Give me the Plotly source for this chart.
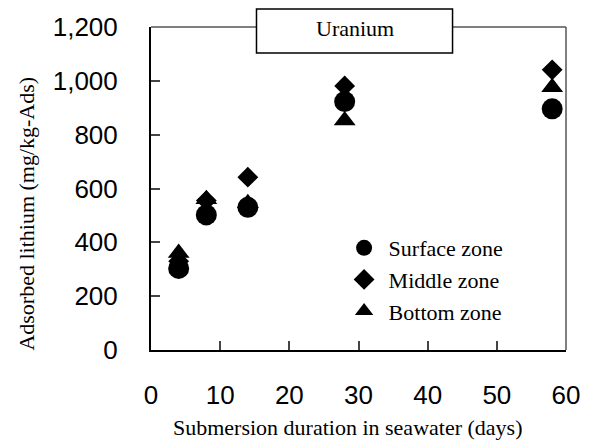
import plotly.graph_objects as go

# Lithium uptake on the uranium adsorbent, by zone in the test vessel
days = [4, 8, 14, 28, 58]
surface_zone = [303, 502, 530, 923, 896]
middle_zone = [330, 555, 642, 981, 1041]
bottom_zone = [360, 560, 545, 853, 976]

x_ticks = [0, 10, 20, 30, 40, 50, 60]
y_ticks = [0, 200, 400, 600, 800, 1000, 1200]
y_tick_text = ["0", "200", "400", "600", "800", "1,000", "1,200"]

SERIF = "Liberation Serif, Times New Roman, serif"
SANS = "Liberation Sans, Arial, sans-serif"

W, H = 592, 442
L, R, T, B = 151, 24, 27, 92
pw, ph = W - L - R, H - T - B


def px_x(p):
    return (p - L) / pw


def px_y(p):
    return 1 - (p - T) / ph


fig = go.Figure()
series = [
    ("Surface zone", surface_zone, "circle", 21),
    ("Middle zone", middle_zone, "diamond", 16),
    ("Bottom zone", bottom_zone, "triangle-up", 19),
]
for i, (name, vals, sym, size) in enumerate(series):
    fig.add_trace(go.Scatter(
        x=days, y=vals, mode="markers", name=name, legendgroup=f"g{i}",
        marker=dict(symbol=sym, size=size, color="black", line=dict(width=0)),
    ))

axis_common = dict(
    showgrid=False, zeroline=False, showline=True, linecolor="black", linewidth=2,
    ticks="inside", ticklen=9, tickwidth=1.5, tickcolor="#444",
    tickfont=dict(family=SANS, size=26, color="black"),
)
fig.update_xaxes(range=[0, 60], tickvals=x_ticks, ticklabelstandoff=21, **axis_common)
fig.update_yaxes(range=[0, 1200], tickvals=y_ticks, ticktext=y_tick_text,
                 ticklabelstandoff=26, **axis_common)

shapes = [
    # top and right frame edges
    dict(type="line", xref="paper", yref="paper", x0=0, x1=1, y0=1, y1=1,
         line=dict(color="#555", width=1.5), layer="above"),
    dict(type="line", xref="paper", yref="paper", x0=1, x1=1, y0=0, y1=1,
         line=dict(color="#555", width=1.5), layer="above"),
    # title box
    dict(type="rect", xref="paper", yref="paper",
         x0=px_x(257), x1=px_x(454), y0=px_y(53), y1=px_y(9),
         fillcolor="white", line=dict(color="black", width=1.5), layer="above"),
]

label_font = dict(family=SERIF, size=22, color="black")
annotations = [
    dict(text="Uranium", xref="paper", yref="paper", x=px_x(355.5), y=px_y(29),
         xanchor="center", yanchor="middle", showarrow=False, font=label_font),
    dict(text="Adsorbed lithium (mg/kg-Ads)", xref="paper", yref="paper",
         x=px_x(25), y=px_y(214), xanchor="center", yanchor="middle",
         textangle=-90, showarrow=False, font=label_font),
    dict(text="Submersion duration in seawater (days)", xref="paper", yref="paper",
         x=px_x(348), y=px_y(427), xanchor="center", yanchor="middle",
         showarrow=False, font=label_font),
]

fig.update_layout(
    width=W, height=H,
    margin=dict(l=L, r=R, t=T, b=B),
    paper_bgcolor="white", plot_bgcolor="white",
    shapes=shapes, annotations=annotations,
    legend=dict(
        x=px_x(340.5), y=px_y(227), xanchor="left", yanchor="top",
        bgcolor="rgba(0,0,0,0)", tracegroupgap=0, itemwidth=39,
        font=label_font,
    ),
)

fig.write_html("out.html")
